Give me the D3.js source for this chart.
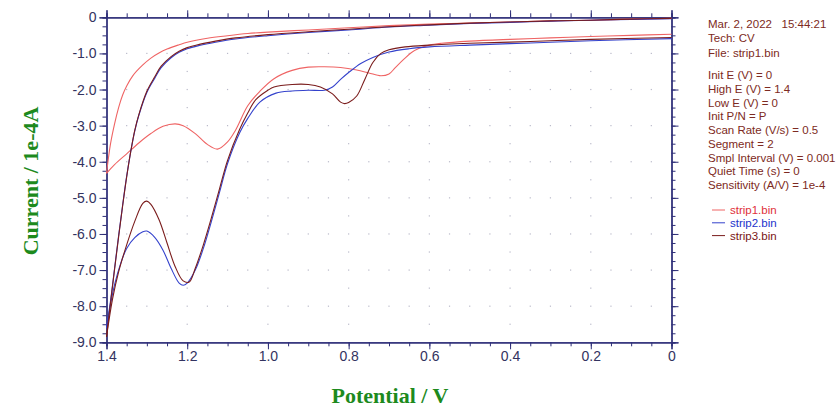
<!DOCTYPE html>
<html>
<head>
<meta charset="utf-8">
<script src="https://cdn.jsdelivr.net/npm/d3@7/dist/d3.min.js"></script>
<style>
  html, body { margin: 0; padding: 0; background: #ffffff; }
  svg { display: block; }
  .tick text { font-family: "Liberation Sans", Arial, sans-serif; }
  .info text { white-space: pre; }
</style>
</head>
<body>
<svg id="chart" width="840" height="409"></svg>
<script>
// Cyclic voltammograms: forward sweep 0 -> 1.4 V, reverse sweep 1.4 -> 0 V.
// Pairs are [potential (V), current (1e-4 A)].
const strip1Forward = [[0.00,-0.47],[0.10,-0.50],[0.20,-0.53],[0.30,-0.57],[0.40,-0.61],[0.50,-0.66],[0.57,-0.72],[0.60,-0.77],[0.625,-0.86],[0.645,-0.98],[0.665,-1.18],[0.685,-1.40],[0.70,-1.57],[0.72,-1.62],[0.75,-1.54],[0.78,-1.46],[0.82,-1.39],[0.86,-1.37],[0.90,-1.38],[0.94,-1.47],[0.985,-1.70],[1.02,-2.05],[1.05,-2.45],[1.08,-3.12],[1.10,-3.45],[1.125,-3.65],[1.15,-3.52],[1.18,-3.22],[1.21,-3.00],[1.23,-2.95],[1.26,-3.02],[1.29,-3.22],[1.32,-3.48],[1.35,-3.78],[1.38,-4.08],[1.40,-4.32]];
const strip1Reverse = [[1.40,-4.32],[1.39,-3.50],[1.38,-2.95],[1.37,-2.50],[1.36,-2.15],[1.35,-1.90],[1.335,-1.62],[1.31,-1.32],[1.29,-1.13],[1.27,-0.99],[1.25,-0.88],[1.22,-0.76],[1.20,-0.69],[1.15,-0.58],[1.10,-0.51],[1.05,-0.45],[1.00,-0.41],[0.90,-0.35],[0.80,-0.29],[0.70,-0.23],[0.60,-0.19],[0.50,-0.16],[0.40,-0.13],[0.30,-0.10],[0.20,-0.08],[0.10,-0.05],[0.00,-0.03]];

const strip2Forward = [[0.00,-0.59],[0.20,-0.65],[0.35,-0.71],[0.50,-0.77],[0.60,-0.82],[0.65,-0.87],[0.70,-0.96],[0.74,-1.11],[0.77,-1.28],[0.80,-1.53],[0.82,-1.72],[0.84,-1.93],[0.86,-2.02],[0.90,-2.02],[0.94,-2.04],[0.98,-2.10],[1.02,-2.35],[1.05,-2.80],[1.07,-3.20],[1.10,-4.05],[1.12,-4.85],[1.14,-5.65],[1.16,-6.40],[1.18,-7.00],[1.20,-7.36],[1.21,-7.42],[1.22,-7.36],[1.24,-6.95],[1.26,-6.45],[1.28,-6.10],[1.30,-5.92],[1.31,-5.94],[1.33,-6.10],[1.35,-6.40],[1.365,-6.82],[1.38,-7.40],[1.39,-7.95],[1.40,-8.60]];
const strip2Reverse = [[1.40,-8.60],[1.39,-7.85],[1.38,-6.95],[1.37,-6.05],[1.36,-5.20],[1.35,-4.40],[1.34,-3.72],[1.33,-3.15],[1.32,-2.72],[1.30,-2.08],[1.28,-1.68],[1.265,-1.40],[1.24,-1.12],[1.22,-0.97],[1.20,-0.87],[1.17,-0.78],[1.13,-0.69],[1.08,-0.60],[1.00,-0.51],[0.90,-0.42],[0.80,-0.35],[0.70,-0.27],[0.60,-0.22],[0.50,-0.17],[0.40,-0.14],[0.30,-0.11],[0.20,-0.08],[0.10,-0.06],[0.00,-0.04]];

const strip3Forward = [[0.00,-0.56],[0.20,-0.61],[0.35,-0.67],[0.50,-0.72],[0.60,-0.77],[0.66,-0.82],[0.70,-0.90],[0.72,-1.00],[0.74,-1.25],[0.76,-1.72],[0.78,-2.18],[0.80,-2.36],[0.81,-2.39],[0.82,-2.35],[0.84,-2.12],[0.87,-1.93],[0.90,-1.86],[0.94,-1.86],[0.985,-1.93],[1.00,-2.02],[1.03,-2.28],[1.05,-2.65],[1.07,-3.10],[1.10,-3.96],[1.12,-4.75],[1.14,-5.55],[1.16,-6.30],[1.18,-6.95],[1.195,-7.33],[1.21,-7.30],[1.23,-6.90],[1.25,-6.25],[1.27,-5.60],[1.29,-5.18],[1.30,-5.09],[1.31,-5.15],[1.33,-5.65],[1.35,-6.30],[1.37,-7.05],[1.385,-7.80],[1.40,-8.85]];
const strip3Reverse = [[1.40,-8.85],[1.39,-7.90],[1.38,-6.98],[1.37,-6.08],[1.36,-5.22],[1.35,-4.42],[1.34,-3.72],[1.33,-3.13],[1.32,-2.70],[1.30,-2.05],[1.28,-1.64],[1.265,-1.36],[1.24,-1.09],[1.22,-0.94],[1.20,-0.84],[1.17,-0.75],[1.13,-0.66],[1.08,-0.57],[1.00,-0.48],[0.90,-0.40],[0.80,-0.33],[0.70,-0.26],[0.60,-0.21],[0.50,-0.16],[0.40,-0.13],[0.30,-0.10],[0.20,-0.08],[0.10,-0.05],[0.00,-0.03]];

const seriesNames = ["strip1.bin", "strip2.bin", "strip3.bin"];
const seriesColors = ["#ef6464", "#3442cc", "#7a1c1c"];
const legendTextColors = ["#e0303a", "#2233cc", "#7a1414"];

const xTickValues = [1.4, 1.2, 1.0, 0.8, 0.6, 0.4, 0.2, 0];
const xTickLabels = ["1.4", "1.2", "1.0", "0.8", "0.6", "0.4", "0.2", "0"];
const yTickValues = [0, -1, -2, -3, -4, -5, -6, -7, -8, -9];
const yTickLabels = ["0", "-1.0", "-2.0", "-3.0", "-4.0", "-5.0", "-6.0", "-7.0", "-8.0", "-9.0"];

const headerLines = [
  "Mar. 2, 2022   15:44:21",
  "Tech: CV",
  "File: strip1.bin"
];
const paramLines = [
  "Init E (V) = 0",
  "High E (V) = 1.4",
  "Low E (V) = 0",
  "Init P/N = P",
  "Scan Rate (V/s) = 0.5",
  "Segment = 2",
  "Smpl Interval (V) = 0.001",
  "Quiet Time (s) = 0",
  "Sensitivity (A/V) = 1e-4"
];

const svg = d3.select("#chart");
const plotLeft = 106.5, plotRight = 671.5, plotTop = 17.3, plotBottom = 342.3;

const x = d3.scaleLinear().domain([1.4, 0]).range([plotLeft, plotRight]);
const y = d3.scaleLinear().domain([0, -9]).range([plotTop, plotBottom]);

const axisColor = "#2e2e78";
const labelColor = "#333360";

// Dotted grid
const grid = svg.append("g").attr("fill", "#b9b9c9");
const minorX = d3.range(0, 29).map(i => 1.4 - i * 0.05);
const minorY = d3.range(0, 37).map(i => -i * 0.25);
yTickValues.slice(1, -1).forEach(v => {
  minorX.slice(1, -1).forEach(p => {
    grid.append("rect").attr("x", x(p) - 0.6).attr("y", y(v) - 0.6).attr("width", 1.2).attr("height", 1.2);
  });
});
xTickValues.slice(1, -1).forEach(p => {
  minorY.filter((v, i) => i % 2 === 0 && i % 4 !== 0).forEach(v => {
    grid.append("rect").attr("x", x(p) - 0.6).attr("y", y(v) - 0.6).attr("width", 1.2).attr("height", 1.2);
  });
});

// Frame and axes
function styleAxis(g) {
  g.select(".domain").attr("stroke", axisColor).attr("stroke-width", 1.3);
  g.selectAll(".tick line").attr("stroke", axisColor).attr("stroke-width", 1);
  g.selectAll(".tick text").attr("fill", labelColor).attr("font-size", "14px");
}

// minor ticks
svg.append("g").attr("transform", `translate(0,${plotBottom})`)
  .call(d3.axisBottom(x).tickValues(minorX).tickSize(4).tickFormat(""))
  .call(styleAxis);
svg.append("g").attr("transform", `translate(0,${plotTop})`)
  .call(d3.axisTop(x).tickValues(minorX).tickSize(4).tickFormat(""))
  .call(styleAxis);
svg.append("g").attr("transform", `translate(${plotLeft},0)`)
  .call(d3.axisLeft(y).tickValues(minorY).tickSize(4).tickFormat(""))
  .call(styleAxis);
svg.append("g").attr("transform", `translate(${plotRight},0)`)
  .call(d3.axisRight(y).tickValues(minorY).tickSize(4).tickFormat(""))
  .call(styleAxis);

// major ticks with labels
svg.append("g").attr("transform", `translate(0,${plotBottom})`)
  .call(d3.axisBottom(x).tickValues(xTickValues).tickSize(7).tickPadding(2)
    .tickFormat((d, i) => xTickLabels[i]))
  .call(styleAxis);
svg.append("g").attr("transform", `translate(0,${plotTop})`)
  .call(d3.axisTop(x).tickValues(xTickValues).tickSize(7).tickFormat(""))
  .call(styleAxis);
svg.append("g").attr("transform", `translate(${plotLeft},0)`)
  .call(d3.axisLeft(y).tickValues(yTickValues).tickSize(7).tickPadding(3)
    .tickFormat((d, i) => yTickLabels[i]))
  .call(styleAxis);
svg.append("g").attr("transform", `translate(${plotRight},0)`)
  .call(d3.axisRight(y).tickValues(yTickValues).tickSize(7).tickFormat(""))
  .call(styleAxis);

// Curves
const line = d3.line()
  .x(d => x(d[0]))
  .y(d => y(d[1]))
  .curve(d3.curveCatmullRom.alpha(0.5));

const curves = [
  [strip1Forward, strip1Reverse],
  [strip2Forward, strip2Reverse],
  [strip3Forward, strip3Reverse]
];
const plot = svg.append("g");
curves.forEach((branches, i) => {
  branches.forEach(b => {
    plot.append("path")
      .attr("d", line(b))
      .attr("fill", "none")
      .attr("stroke", seriesColors[i])
      .attr("stroke-width", 1.1);
  });
});

// Axis titles
svg.append("text")
  .attr("x", 390).attr("y", 403)
  .attr("text-anchor", "middle")
  .attr("font-family", "'Liberation Serif', 'Times New Roman', serif")
  .attr("font-weight", "bold")
  .attr("font-size", "22px")
  .attr("fill", "#1d8a1d")
  .text("Potential / V");

svg.append("text")
  .attr("transform", "translate(38,181) rotate(-90)")
  .attr("text-anchor", "middle")
  .attr("font-family", "'Liberation Serif', 'Times New Roman', serif")
  .attr("font-weight", "bold")
  .attr("font-size", "22px")
  .attr("fill", "#1d8a1d")
  .text("Current / 1e-4A");

// Experiment parameters
const info = svg.append("g")
  .attr("class", "info")
  .attr("font-family", "'Liberation Sans', Arial, sans-serif")
  .attr("font-size", "11.5px")
  .attr("fill", "#7d2a22");
headerLines.forEach((t, i) => {
  info.append("text").attr("x", 708).attr("y", 28 + i * 14.3).text(t);
});
paramLines.forEach((t, i) => {
  info.append("text").attr("x", 708).attr("y", 79 + i * 13.75).text(t);
});

// Legend
const legend = svg.append("g")
  .attr("font-family", "'Liberation Sans', Arial, sans-serif")
  .attr("font-size", "11.5px");
seriesNames.forEach((name, i) => {
  const ly = 210 + i * 12.8;
  legend.append("line")
    .attr("x1", 712).attr("x2", 725).attr("y1", ly).attr("y2", ly)
    .attr("stroke", seriesColors[i]).attr("stroke-width", 1);
  legend.append("text")
    .attr("x", 730).attr("y", ly + 4)
    .attr("fill", legendTextColors[i])
    .text(name);
});
</script>
</body>
</html>
